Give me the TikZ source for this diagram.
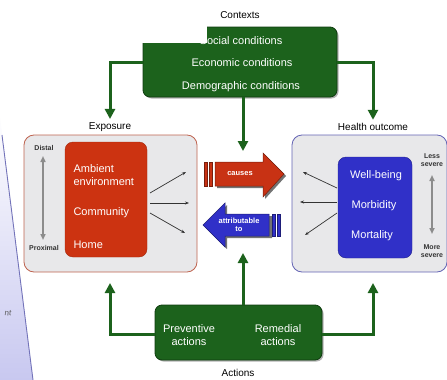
\documentclass[tikz,border=0pt]{standalone}
\usepackage{fontspec}
\setmainfont{Liberation Sans}
\usetikzlibrary{arrows.meta,shadows}
\definecolor{ctxgreen}{RGB}{28,98,28}
\definecolor{ctxdark}{RGB}{15,60,15}
\definecolor{expred}{RGB}{204,51,17}
\definecolor{exparrow}{RGB}{200,50,20}
\definecolor{hblue}{RGB}{48,48,200}
\definecolor{panelgrey}{RGB}{232,232,234}
\definecolor{expborder}{RGB}{190,100,80}
\definecolor{hborder}{RGB}{100,100,180}
\definecolor{lav}{RGB}{200,200,240}
\definecolor{sidegrey}{RGB}{140,140,140}
\tikzset{
  greenbox/.style={draw=ctxdark, line width=0.8pt, fill=ctxgreen, rounded corners=7pt,
     drop shadow={shadow xshift=1.5pt, shadow yshift=-1.5pt, fill=black!60}},
  panel/.style={fill=panelgrey, line width=0.8pt, rounded corners=10pt},
  innerbox/.style={rounded corners=8pt, text=white, align=left},
  lbl/.style={font=\fontsize{10}{12}\selectfont, text=black},
  small/.style={font=\bfseries\fontsize{7}{8}\selectfont, text=black!80, align=center, inner sep=0pt},
  wtext/.style={text=white, font=\fontsize{11}{12.5}\selectfont, align=center},
  arrtext/.style={text=white, font=\bfseries\fontsize{7.5}{8}\selectfont, align=center, inner sep=0pt},
  gline/.style={draw=ctxgreen, line width=3pt, -{Triangle[width=10pt,length=10pt]}},
  fan/.style={draw=black!80, line width=0.7pt, -{Stealth[length=4pt,width=3pt]}},
  sidearrow/.style={draw=sidegrey, line width=2pt, {Triangle[width=5pt,length=6pt]}-{Triangle[width=5pt,length=6pt]}},
}
\begin{document}
\begin{tikzpicture}[x=1pt,y=-1pt]
\useasboundingbox (0,0) rectangle (447,380);
% left lavender panel
\shade[top color=white, bottom color=lav] (0,110) -- (1,125) -- (33,380) -- (0,380) -- cycle;
\draw[draw=black!50!blue!55, line width=0.9pt] (2,135) -- (33,380);
\node[font=\fontsize{8}{9}\selectfont, text=black!65, rotate=-7] (nt) at (8,313) {nt};

% context box
\node[lbl] (ctxlabel) at (240,15) {Contexts};
\node[greenbox, minimum width=194pt, minimum height=70pt] (ctx) at (240,62) {};
\node[wtext] (soc) at (241,41) {Social conditions};
\node[wtext] (eco) at (242,63) {Economic conditions};
\node[wtext] (dem) at (241,87) {Demographic conditions};
\fill[white] (138,24) rectangle (206.5,42.5);

% exposure panel
\node[lbl] (explabel) at (110,127) {Exposure};
\node[panel, draw=expborder, minimum width=173pt, minimum height=137pt] (exp) at (110.5,203.5) {};
\node[innerbox, fill=expred, draw=expred!80!black, minimum width=82pt, minimum height=115pt] (redbox) at (106,199.5) {};
\node[wtext, anchor=west, align=left] (amb) at (70,175) {Ambient\\environment};
\node[wtext, anchor=west] (com) at (70,213) {Community};
\node[wtext, anchor=west] (home) at (70,245) {Home};
\node[small] (distal) at (44,148) {Distal};
\node[small] (prox) at (44,248) {Proximal};
\coordinate (dtop) at (43,156);
\coordinate (dbot) at (43,240);
\draw[sidearrow] (dtop) -- (dbot);
\coordinate (fs1) at (150,193); \coordinate (fe1) at (186,172);
\coordinate (fs2) at (150,203); \coordinate (fe2) at (189,203);
\coordinate (fs3) at (150,213); \coordinate (fe3) at (185,233);
\draw[fan] (fs1) -- (fe1);
\draw[fan] (fs2) -- (fe2);
\draw[fan] (fs3) -- (fe3);

% health panel
\node[lbl] (hlabel) at (373,127) {Health outcome};
\node[panel, draw=hborder, minimum width=155pt, minimum height=137pt] (hp) at (369.5,203.5) {};
\node[innerbox, fill=hblue, draw=hblue!70!black, minimum width=74pt, minimum height=101pt] (bluebox) at (375,207.5) {};
\node[wtext] (well) at (376,176) {Well-being};
\node[wtext] (morb) at (374,206) {Morbidity};
\node[wtext] (mort) at (372,236) {Mortality};
\node[small] (less) at (432,160) {Less\\severe};
\node[small] (more) at (432,251) {More\\severe};
\coordinate (stop) at (432,175); \coordinate (sbot) at (432,234);
\draw[sidearrow] (stop) -- (sbot);
\coordinate (hs1) at (337,188); \coordinate (he1) at (303,172);
\coordinate (hs2) at (337,202); \coordinate (he2) at (300,202);
\coordinate (hs3) at (337,213); \coordinate (he3) at (305,235);
\draw[fan] (hs1) -- (he1);
\draw[fan] (hs2) -- (he2);
\draw[fan] (hs3) -- (he3);

% red arrow (causes)
\fill[black!55] (217,164) -- (265,164) -- (265,155) -- (286,176) -- (265,199) -- (265,188) -- (217,188) -- cycle;
\fill[exparrow, draw=exparrow!60!black, line width=0.5pt] (215,162) -- (263,162) -- (263,153) -- (284,174) -- (263,197) -- (263,186) -- (215,186) -- cycle;
\fill[exparrow, draw=exparrow!60!black, line width=0.5pt] (204,162) rectangle (207,186);
\fill[exparrow, draw=exparrow!60!black, line width=0.5pt] (209,162) rectangle (212,186);
\node[arrtext] (causes) at (240,174) {causes};

% blue arrow (attributable to)
\fill[black!55] (272,216) -- (227,216) -- (227,205) -- (205,227) -- (227,249) -- (227,238) -- (272,238) -- cycle;
\fill[hblue, draw=hblue!60!black, line width=0.5pt] (269,214) -- (225,214) -- (225,203) -- (203,225) -- (225,247) -- (225,236) -- (269,236) -- cycle;
\fill[hblue, draw=hblue!60!black, line width=0.5pt] (272,214) rectangle (275,236);
\fill[hblue, draw=hblue!60!black, line width=0.5pt] (277,214) rectangle (280,236);
\node[arrtext] (attr) at (239,225) {attributable\\to};

% actions box
\node[greenbox, minimum width=167pt, minimum height=55pt] (act) at (238.5,332.5) {};
\node[wtext] (prev) at (189,335) {Preventive\\actions};
\node[wtext] (rem) at (278,335) {Remedial\\actions};
\node[lbl] (actlabel) at (238,373) {Actions};

% green connectors
\coordinate (ctop) at (243,151);
\coordinate (abot) at (243,253);
\coordinate (ebot) at (110,283);
\coordinate (hbot) at (373,283);
\draw[gline] (ctx.west) -| (explabel.north);
\draw[gline] (ctx.east) -| (hlabel.north);
\draw[gline] (ctx.south -| ctop) -- (ctop);
\draw[gline] ([yshift=-2pt]act.west) -| (ebot);
\draw[gline] ([yshift=-2pt]act.east) -| (hbot);
\draw[gline] (act.north -| abot) -- (abot);
\end{tikzpicture}
\end{document}
